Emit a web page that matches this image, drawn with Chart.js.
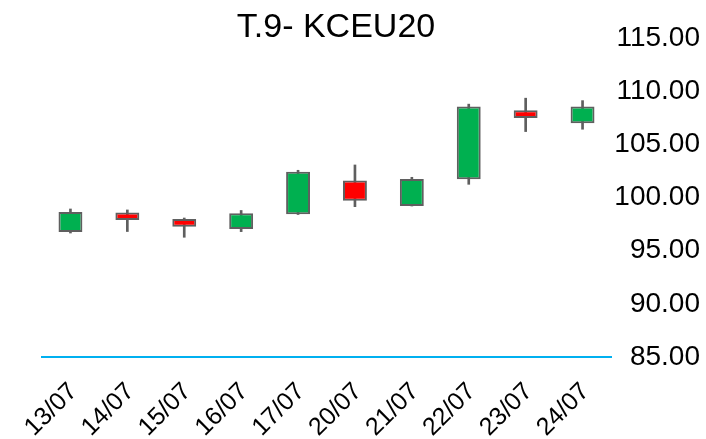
<!DOCTYPE html>
<html>
<head>
<meta charset="utf-8">
<script src="https://cdn.jsdelivr.net/npm/chart.js@4"></script>
<style>
  html, body { margin: 0; padding: 0; background: #fff; }
  #wrap { width: 706px; height: 439px; }
</style>
</head>
<body>
<div id="wrap"><canvas id="chart"></canvas></div>
<script>
const dates = ["13/07", "14/07", "15/07", "16/07", "17/07", "20/07", "21/07", "22/07", "23/07", "24/07"];
const opens = [96.76, 98.60, 97.98, 97.04, 98.42, 101.59, 99.20, 101.72, 108.20, 106.98];
const closes = [98.64, 97.89, 97.26, 98.52, 102.43, 99.70, 101.75, 108.55, 107.48, 108.55];
const highs = [98.92, 98.83, 98.07, 98.78, 102.56, 103.06, 101.90, 108.78, 109.34, 109.11];
const lows = [96.66, 96.80, 96.26, 96.79, 98.40, 99.14, 99.20, 101.24, 106.20, 106.42];
const yTicks = [85, 90, 95, 100, 105, 110, 115];

const bodies = dates.map((d, i) => [opens[i], closes[i]]);
const wicks = dates.map((d, i) => [lows[i], highs[i]]);
const bodyColors = dates.map((d, i) => closes[i] >= opens[i] ? "#00B050" : "#FF0000");

// title sits over the plot, not above it
const titlePlugin = {
  id: "overTitle",
  afterDraw(chart) {
    const ctx = chart.ctx;
    ctx.save();
    ctx.font = "34px 'Liberation Sans', Arial, sans-serif";
    ctx.fillStyle = "#000";
    ctx.textAlign = "center";
    ctx.textBaseline = "middle";
    ctx.fillText("T.9- KCEU20", 336, 28);
    ctx.restore();
  }
};

new Chart(document.getElementById("chart"), {
  type: "bar",
  data: {
    labels: dates,
    datasets: [
      {
        data: bodies,
        backgroundColor: bodyColors,
        borderColor: "#5f5f5f",
        borderWidth: 2,
        borderSkipped: false,
        barPercentage: 0.42,
        categoryPercentage: 1,
        grouped: false
      },
      {
        data: wicks,
        backgroundColor: "#5f5f5f",
        borderWidth: 0,
        barThickness: 2,
        grouped: false
      }
    ]
  },
  options: {
    responsive: true,
    maintainAspectRatio: false,
    animation: false,
    devicePixelRatio: 1,
    layout: { padding: { left: 42, top: 38, right: 6, bottom: 0 } },
    plugins: {
      legend: { display: false },
      tooltip: { enabled: false }
    },
    scales: {
      x: {
        grid: { display: false },
        border: { display: true, color: "#00B0F0", width: 2 },
        ticks: {
          color: "#000",
          font: { family: "'Liberation Sans', Arial, sans-serif", size: 25 },
          minRotation: 45,
          maxRotation: 45,
          padding: 12,
          labelOffset: 3
        },
        afterFit(scale) { scale.height = 82; }
      },
      y: {
        position: "right",
        min: 85,
        max: 115,
        grid: { display: false },
        border: { display: false },
        afterBuildTicks(scale) { scale.ticks = yTicks.map(v => ({ value: v })); },
        ticks: {
          color: "#000",
          crossAlign: "far",
          font: { family: "'Liberation Sans', Arial, sans-serif", size: 28 },
          callback: v => Number(v).toFixed(2)
        },
        afterFit(scale) { scale.width = 89; }
      }
    }
  },
  plugins: [titlePlugin]
});
</script>
</body>
</html>
